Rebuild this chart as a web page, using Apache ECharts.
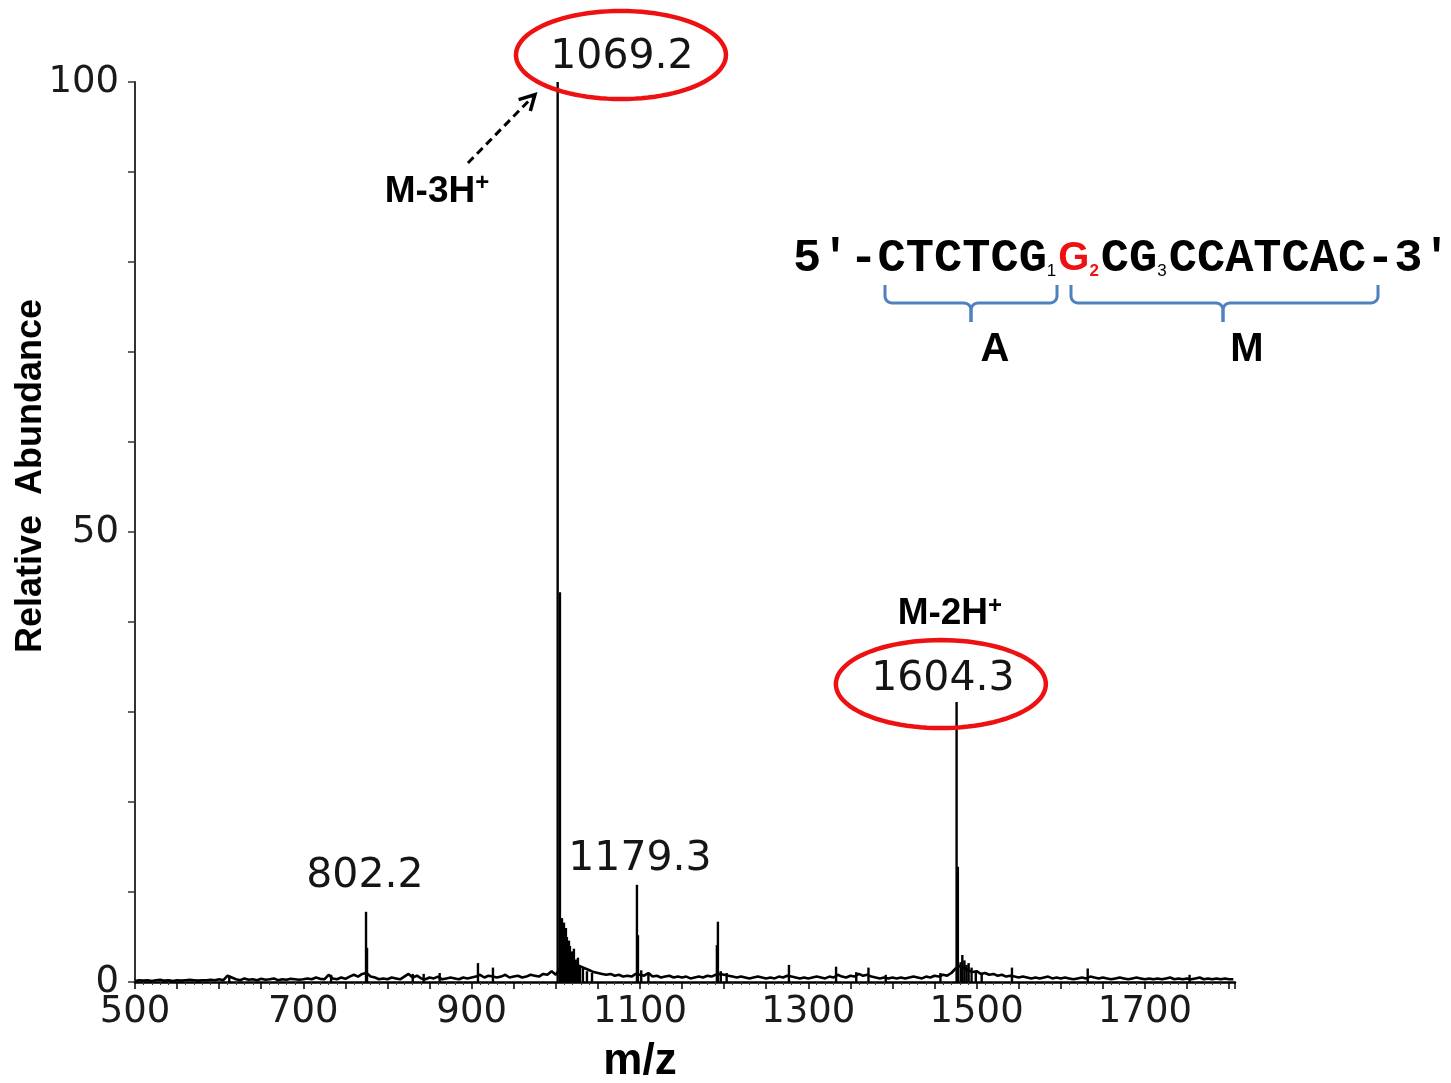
<!DOCTYPE html>
<html><head><meta charset="utf-8">
<script src="https://cdn.jsdelivr.net/npm/echarts@6/dist/echarts.min.js"></script>
<style>html,body{margin:0;padding:0;background:#fff}#c{width:1451px;height:1083px}</style>
</head><body><div id="c"></div>
<script>
// ---------------- data ----------------
const xTickLabels = [500, 700, 900, 1100, 1300, 1500, 1700];
const yTickLabels = [0, 50, 100];
// baseline noise trace, sampled every 5 m/z starting at 500
const noiseStartMz = 500, noiseStepMz = 5;
const noiseAb = [
 0.1,0.2,0.15,0.2,0.1,0.2,0.25,0.15,0.2,0.1,0.2,0.15,0.2,0.25,0.2,0.15,0.2,0.2,0.25,0.2,
 0.3,0.2,0.7,0.5,0.3,0.2,0.4,0.25,0.3,0.2,0.35,0.25,0.3,0.4,0.2,0.3,0.25,0.35,0.3,0.25,
 0.3,0.4,0.3,0.5,0.35,0.3,0.8,0.4,0.3,0.5,0.35,0.6,0.8,0.6,0.9,1.0,0.6,0.5,0.3,0.4,
 0.3,0.5,0.4,0.3,0.6,0.9,0.5,0.7,0.4,0.3,0.5,0.4,0.6,0.3,0.4,0.5,0.4,0.3,0.5,0.4,
 0.5,0.6,0.8,0.5,0.7,0.6,0.5,0.6,0.8,0.5,0.6,0.7,0.5,0.6,0.8,0.7,0.6,0.9,0.8,1.2,
 0.8,1.5,3.0,2.6,2.2,1.9,1.7,1.5,1.3,1.1,1.0,0.9,0.8,0.9,0.7,0.8,0.6,0.7,0.6,0.9,
 0.8,0.7,1.0,0.6,0.7,0.5,0.6,0.7,0.5,0.6,0.5,0.6,0.4,0.5,0.6,0.5,0.7,0.6,0.8,0.9,
 0.8,0.7,0.6,0.5,0.6,0.5,0.4,0.5,0.6,0.5,0.4,0.5,0.4,0.6,0.5,0.7,0.6,0.5,0.4,0.5,
 0.4,0.5,0.6,0.5,0.4,0.6,0.5,0.8,0.6,0.5,0.7,0.6,0.9,0.7,0.8,0.6,0.5,0.4,0.5,0.4,
 0.5,0.4,0.5,0.4,0.5,0.6,0.5,0.4,0.6,0.5,0.7,0.6,0.8,0.7,1.0,1.5,1.8,1.6,1.3,1.1,
 1.2,0.9,1.0,0.8,0.9,0.7,0.8,0.6,0.7,0.6,0.5,0.6,0.5,0.4,0.5,0.4,0.5,0.6,0.4,0.5,
 0.4,0.5,0.4,0.3,0.4,0.5,0.4,0.6,0.5,0.4,0.5,0.4,0.3,0.4,0.5,0.4,0.3,0.4,0.5,0.4,
 0.3,0.4,0.3,0.4,0.3,0.4,0.5,0.3,0.4,0.3,0.4,0.3,0.4,0.5,0.3,0.4,0.3,0.4,0.3,0.4,
 0.3,0.3
];
// centroid sticks
const peakMz = [612, 733, 774.5, 775.7, 830, 843, 862, 907.5, 925.3,
 1002.2, 1004.9, 1007.3, 1009.7, 1012.0, 1013.2, 1015.6, 1016.8, 1019.2, 1021.5, 1023.9, 1026.3, 1028.7, 1032.2, 1037.0, 1043.0,
 1096.4, 1097.6, 1101.5, 1110, 1191.4, 1192.6, 1196, 1203, 1277, 1333, 1357, 1371.5, 1392, 1457,
 1476.2, 1477.7, 1481, 1483, 1485.5, 1488, 1490.5, 1494, 1499, 1506, 1542, 1632, 1753];
const peakAb = [0.7, 0.8, 7.8, 3.8, 0.9, 0.9, 1.0, 2.1, 1.6,
 100, 43.3, 7.1, 6.6, 6.0, 5.0, 4.6, 4.0, 3.4, 3.7, 2.5, 2.7, 1.8, 1.5, 1.2, 1.0,
 10.8, 5.2, 1.3, 1.0, 4.1, 6.7, 1.2, 1.0, 1.9, 1.7, 1.1, 1.6, 0.8, 1.0,
 31.1, 12.8, 2.2, 3.0, 2.4, 1.9, 2.1, 1.6, 1.2, 1.0, 1.6, 1.5, 0.8];
// annotations (data coordinates of their centres)
const peakLabels = ['802.2', '1069.2', '1179.3', '1604.3'];
const peakLabelMz = [773.2, 1078.6, 1100, 1459.9];
const peakLabelAb = [11.7, 102.7, 13.6, 33.6];
const ionLabels = ['M-3H', 'M-2H'];
const ionLabelMz = [858.8, 1468.2];
const ionLabelAb = [87.8, 40.9];
const circledMz = [1077.4, 1457.5];
const circledAb = [103, 33.1];
const arrowFrom = [895.6, 91];
const arrowTo = [975.2, 98.6];
const seqParts = ["5'-CTCTCG", '1', 'G', '2', 'CG', '3', "CCATCAC-3'"];
const braceLabels = ['A', 'M'];

// ---------------- chart ----------------
const chart = echarts.init(document.getElementById('c'), null, {renderer: 'canvas'});
const noiseData = noiseAb.map((v, i) => [noiseStartMz + i * noiseStepMz, v]);
const stickData = peakMz.map((m, i) => [m, peakAb[i]]);
const numFont = 'DejaVu Sans';

chart.setOption({
  animation: false,
  backgroundColor: '#fff',
  grid: {left: 135, right: 216, top: 82, bottom: 101, containLabel: false},
  xAxis: {
    type: 'value', min: 500, max: 1807, interval: 50,
    axisLine: {show: true, lineStyle: {color: '#000', width: 2.5}},
    axisTick: {show: true, length: 7, lineStyle: {color: '#000', width: 1.5}},
    minorTick: {show: true, splitNumber: 5, length: 3, lineStyle: {color: '#333'}},
    splitLine: {show: false},
    axisLabel: {
      margin: 12, fontSize: 37, fontFamily: numFont, color: '#1a1a1a', showMaxLabel: false,
      formatter: v => xTickLabels.indexOf(v) >= 0 ? String(v) : ''
    }
  },
  yAxis: {
    type: 'value', min: 0, max: 100, interval: 10,
    axisLine: {show: true, lineStyle: {color: '#333', width: 2}},
    axisTick: {show: true, length: 7, lineStyle: {color: '#333', width: 1.5}},
    splitLine: {show: false},
    axisLabel: {
      margin: 16, fontSize: 37, fontFamily: numFont, color: '#1a1a1a',
      formatter: v => yTickLabels.indexOf(v) >= 0 ? String(v) : ''
    }
  },
  series: [
    {type: 'line', data: noiseData, showSymbol: false, symbol: 'none',
     lineStyle: {color: '#000', width: 2.6}, z: 2},
    {type: 'custom', data: stickData, z: 3,
     renderItem: function (params, api) {
       const x = api.value(0), y = api.value(1);
       const p0 = api.coord([x, 0]), p1 = api.coord([x, y]);
       return {type: 'line', shape: {x1: p0[0], y1: p0[1], x2: p1[0], y2: p1[1]},
               style: {stroke: '#000', lineWidth: 2.4}};
     }}
  ]
});

// ---------------- annotations ----------------
const px = (m, a) => chart.convertToPixel({gridIndex: 0}, [m, a]);
const g = [];
function ellipse(cx, cy, rx, ry) {
  const pts = [];
  for (let k = 0; k < 96; k++) {
    const t = k / 96 * Math.PI * 2;
    pts.push([cx + rx * Math.cos(t), cy + ry * Math.sin(t)]);
  }
  return pts;
}
peakLabels.forEach((t, i) => {
  const p = px(peakLabelMz[i], peakLabelAb[i]);
  g.push({type: 'text', z: 10, style: {text: t, x: p[0], y: p[1], align: 'center', verticalAlign: 'middle',
    textAlign: 'center', textVerticalAlign: 'middle',
    font: '41px "DejaVu Sans"', fill: '#151515'}});
});
circledMz.forEach((m, i) => {
  const p = px(m, circledAb[i]);
  g.push({type: 'polygon', z: 11, shape: {points: ellipse(p[0], p[1], 105, 44)},
    style: {fill: 'none', stroke: '#ee1111', lineWidth: 4.5}});
});
ionLabels.forEach((t, i) => {
  const p = px(ionLabelMz[i], ionLabelAb[i]);
  g.push({type: 'text', z: 10, style: {text: '{a|' + t + '}{s|+}', x: p[0], y: p[1],
    align: 'center', verticalAlign: 'middle', textAlign: 'center', textVerticalAlign: 'middle',
    rich: {
      a: {fontFamily: 'Liberation Sans', fontWeight: 'bold', fontSize: 37, fill: '#000', lineHeight: 40},
      s: {fontFamily: 'Liberation Sans', fontWeight: 'bold', fontSize: 24, fill: '#000', verticalAlign: 'top', lineHeight: 40}
    }}});
});
// dashed arrow
(function () {
  const a = px(arrowFrom[0], arrowFrom[1]), b = px(arrowTo[0], arrowTo[1]);
  g.push({type: 'line', z: 10, shape: {x1: a[0], y1: a[1], x2: b[0] - 3, y2: b[1] + 3},
    style: {stroke: '#000', lineWidth: 3, lineDash: [8, 5]}});
  const ang = Math.atan2(b[1] - a[1], b[0] - a[0]);
  const L = 17, w = 0.5;
  g.push({type: 'polyline', z: 10, shape: {points: [
    [b[0] - L * Math.cos(ang - w), b[1] - L * Math.sin(ang - w)], [b[0], b[1]],
    [b[0] - L * Math.cos(ang + w), b[1] - L * Math.sin(ang + w)]]},
    style: {stroke: '#000', lineWidth: 3.5, fill: 'none'}});
})();
// axis names
g.push({type: 'text', z: 10, style: {text: 'm/z', x: 640, y: 1062, align: 'center', verticalAlign: 'middle',
  textAlign: 'center', textVerticalAlign: 'middle', font: 'bold 44px "Liberation Sans"', fill: '#000'}});
g.push({type: 'text', z: 10, x: 31, y: 476, rotation: Math.PI / 2,
  style: {text: 'Relative  Abundance', x: 0, y: 0, align: 'center', verticalAlign: 'middle',
  textAlign: 'center', textVerticalAlign: 'middle', font: 'bold 36px "Liberation Sans"', fill: '#000'}});
// sequence
g.push({type: 'text', z: 10, style: {
  text: '{m|' + seqParts[0] + '}{s|' + seqParts[1] + '}{g|' + seqParts[2] + '}{r|' + seqParts[3] + '}{m|' + seqParts[4] + '}{s|' + seqParts[5] + '}{m|' + seqParts[6] + '}',
  x: 793, y: 259, align: 'left', verticalAlign: 'middle', textAlign: 'left', textVerticalAlign: 'middle',
  rich: {
    m: {fontFamily: 'Liberation Mono', fontWeight: 'bold', fontSize: 47, fill: '#000', lineHeight: 50},
    s: {fontFamily: 'Liberation Sans', fontSize: 17, fill: '#000', verticalAlign: 'bottom', lineHeight: 50, padding: [0, 2, 4, 0]},
    g: {fontFamily: 'Liberation Sans', fontWeight: 'bold', fontSize: 40, fill: '#ee1111', lineHeight: 50},
    r: {fontFamily: 'Liberation Sans', fontWeight: 'bold', fontSize: 17, fill: '#ee1111', verticalAlign: 'bottom', lineHeight: 50, padding: [0, 2, 4, 0]}
  }}});
// braces
function brace(x1, x2, xc, yTop, yMid, yTip, r) {
  const left = [[x1, yTop]], right = [[x2, yTop]];
  for (let k = 0; k <= 8; k++) { const t = Math.PI - k / 8 * Math.PI / 2; left.push([x1 + r + r * Math.cos(t), yMid - r + r * Math.sin(t)]); }
  for (let k = 0; k <= 8; k++) { const t = -Math.PI / 2 + k / 8 * Math.PI / 2; left.push([xc - r + r * Math.cos(t), yMid + r + r * Math.sin(t)]); }
  left.push([xc, yTip]);
  for (let k = 0; k <= 8; k++) { const t = k / 8 * Math.PI / 2; right.push([x2 - r + r * Math.cos(t), yMid - r + r * Math.sin(t)]); }
  for (let k = 0; k <= 8; k++) { const t = -Math.PI / 2 - k / 8 * Math.PI / 2; right.push([xc + r + r * Math.cos(t), yMid + r + r * Math.sin(t)]); }
  right.push([xc, yTip]);
  return [left, right];
}
const braceColor = '#4f81bd';
[[885, 1057, 971], [1071, 1378, 1223]].forEach((b, i) => {
  brace(b[0], b[1], b[2], 285, 303, 322, 7).forEach(pts => {
    g.push({type: 'polyline', z: 10, shape: {points: pts}, style: {stroke: braceColor, lineWidth: 3, fill: 'none'}});
  });
});
[[995, 350], [1247, 350]].forEach((p, i) => {
  g.push({type: 'text', z: 10, style: {text: braceLabels[i], x: p[0], y: p[1], align: 'center', verticalAlign: 'middle',
    textAlign: 'center', textVerticalAlign: 'middle', font: 'bold 40px "Liberation Sans"', fill: '#000'}});
});
chart.setOption({graphic: g});
</script>
</body></html>
